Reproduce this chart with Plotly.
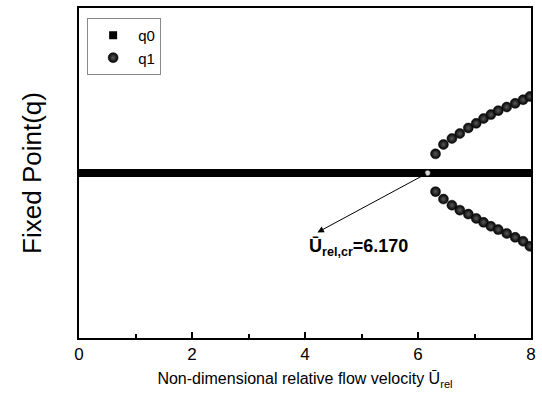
import numpy as np
import plotly.graph_objects as go

# q0 : trivial fixed point (zero) over the whole velocity range
q0_x = np.linspace(0, 8, 401)
q0_y = np.zeros_like(q0_x)

# q1 : bifurcated branches beyond the critical velocity
q1_x = [6.31, 6.45, 6.60, 6.74, 6.89, 7.03, 7.16, 7.29, 7.42, 7.57, 7.72, 7.86, 7.98]
q1_upper = [0.116, 0.173, 0.209, 0.239, 0.273, 0.301, 0.330, 0.354, 0.378, 0.400, 0.422, 0.444, 0.464]
q1_lower = [-0.113, -0.158, -0.195, -0.225, -0.249, -0.275, -0.299, -0.323, -0.343, -0.366, -0.390, -0.414, -0.444]

u_cr = 6.170
label_xy = (4.22, -0.36)

fig = go.Figure()

fig.add_trace(go.Scatter(
    x=q0_x, y=q0_y, mode="markers", name="q0",
    marker=dict(symbol="square", size=8, color="black", line=dict(width=0)),
))

ball = dict(symbol="circle", size=10, color="black",
            line=dict(width=0.5, color="#111"),
            gradient=dict(type="radial", color="#5a5a5a"))

fig.add_trace(go.Scatter(
    x=q1_x + q1_x, y=q1_upper + q1_lower, mode="markers", name="q1",
    marker=ball,
))

fig.add_trace(go.Scatter(
    x=[u_cr], y=[0], mode="markers", showlegend=False,
    marker=dict(symbol="circle", size=5, color="#d8d8d8", line=dict(width=0.5, color="#888")),
))

fig.add_annotation(
    x=label_xy[0], y=label_xy[1], ax=u_cr, ay=0, axref="x", ayref="y",
    xref="x", yref="y", text="", showarrow=True,
    arrowhead=2, arrowsize=1.3, arrowwidth=1, arrowcolor="black",
)
fig.add_annotation(
    x=label_xy[0] - 0.18, y=label_xy[1] - 0.01, xref="x", yref="y",
    text="<b>Ū<sub>rel,cr</sub>=6.170</b>", showarrow=False,
    xanchor="left", yanchor="top",
    font=dict(family="Arial, Liberation Sans", size=18, color="black"),
)

fig.update_layout(
    width=542, height=393,
    margin=dict(l=79, r=10, t=6, b=55),
    paper_bgcolor="white", plot_bgcolor="white",
    font=dict(family="Arial, Liberation Sans", color="black"),
    showlegend=True,
    legend=dict(
        x=0.018, y=0.97, xanchor="left", yanchor="top",
        bgcolor="white", bordercolor="#888", borderwidth=1,
        font=dict(size=15), itemwidth=40,
    ),
    xaxis=dict(
        range=[0, 8], tickvals=[0, 2, 4, 6, 8],
        ticks="inside", ticklen=6, tickwidth=1.5, tickcolor="black",
        minor=dict(tickvals=[1, 3, 5, 7], ticks="inside", ticklen=4, tickwidth=1.5, tickcolor="black"),
        showline=True, linecolor="black", linewidth=1.5, mirror=True,
        showgrid=False, zeroline=False,
        tickfont=dict(size=17),
        title=dict(text="Non-dimensional relative flow velocity Ū<sub>rel</sub>",
                   font=dict(size=16), standoff=10),
    ),
    yaxis=dict(
        range=[-1, 1], showticklabels=False, ticks="",
        showline=True, linecolor="black", linewidth=1.5, mirror=True,
        showgrid=False, zeroline=False,
        title=dict(text="Fixed Point(q)", font=dict(size=26), standoff=28),
    ),
)

fig.write_html("out.html")
